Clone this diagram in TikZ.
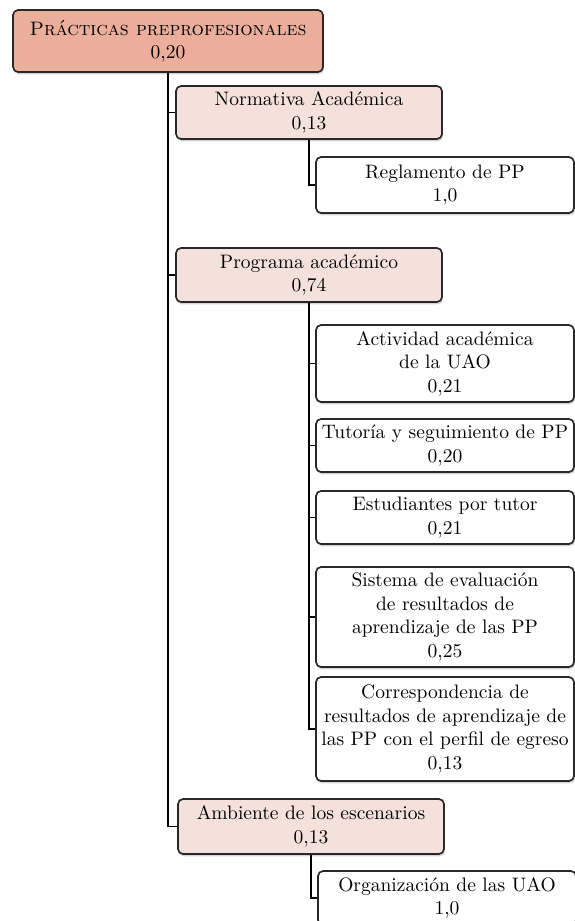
\documentclass[tikz,border=0pt]{standalone}
\usetikzlibrary{shadows}
\def\pxu{0.5128pt}
\definecolor{rootfill}{RGB}{234,174,155}
\definecolor{midfill}{RGB}{245,225,220}
\definecolor{boxdraw}{RGB}{40,40,40}
\begin{document}
\begin{tikzpicture}[x=\pxu,y=-\pxu,
  box/.style={draw=boxdraw, line width=0.85pt, rounded corners=2.6pt, align=center,
    inner sep=0pt, font=\fontsize{10}{12}\selectfont,
    drop shadow={shadow xshift=0.4pt, shadow yshift=-1.2pt, opacity=0.35, fill=gray}},
  rootbox/.style={box, fill=rootfill, minimum width=310*\pxu, minimum height=62*\pxu},
  midbox/.style={box, fill=midfill, minimum width=266*\pxu},
  leafbox/.style={box, fill=white, minimum width=258*\pxu},
  conn/.style={draw=black, line width=0.75pt}]
\useasboundingbox (0,0) rectangle (575,921);
\node[rootbox] (root) at (168,41) {\textsc{Prácticas preprofesionales}\\0,20};
\node[midbox, minimum height=53*\pxu] (norm) at (309,112.5) {Normativa Académica\\0,13};
\node[leafbox, minimum height=56*\pxu] (regl) at (445,185) {Reglamento de PP\\1,0};
\node[midbox, minimum height=54*\pxu] (prog) at (309,275) {Programa académico\\0,74};
\node[leafbox, minimum height=77*\pxu] (activ) at (445,363.5) {Actividad académica\\de la UAO\\0,21};
\node[leafbox, minimum height=53*\pxu] (tut) at (445,445.5) {Tutoría y seguimiento de PP\\0,20};
\node[leafbox, minimum height=53*\pxu] (est) at (445,517.5) {Estudiantes por tutor\\0,21};
\node[leafbox, minimum height=100*\pxu] (sist) at (445,617) {Sistema de evaluación\\de resultados de\\aprendizaje de las PP\\0,25};
\node[leafbox, minimum height=104*\pxu] (corr) at (445,729) {Correspondencia de\\resultados de aprendizaje de\\las PP con el perfil de egreso\\0,13};
\node[midbox, minimum height=55*\pxu] (amb) at (311,826.5) {Ambiente de los escenarios\\0,13};
\node[leafbox, minimum height=54*\pxu] (org) at (447,898) {Organización de las UAO\\1,0};
\draw[conn] (root.south) |- (norm.west);
\draw[conn] (root.south) |- (prog.west);
\draw[conn] (root.south) |- (amb.west);
\draw[conn] (norm.south) |- (regl.west);
\draw[conn] (prog.south) |- (activ.west);
\draw[conn] (prog.south) |- (tut.west);
\draw[conn] (prog.south) |- (est.west);
\draw[conn] (prog.south) |- (sist.west);
\draw[conn] (prog.south) |- (corr.west);
\draw[conn] (amb.south) |- (org.west);
\end{tikzpicture}
\end{document}
